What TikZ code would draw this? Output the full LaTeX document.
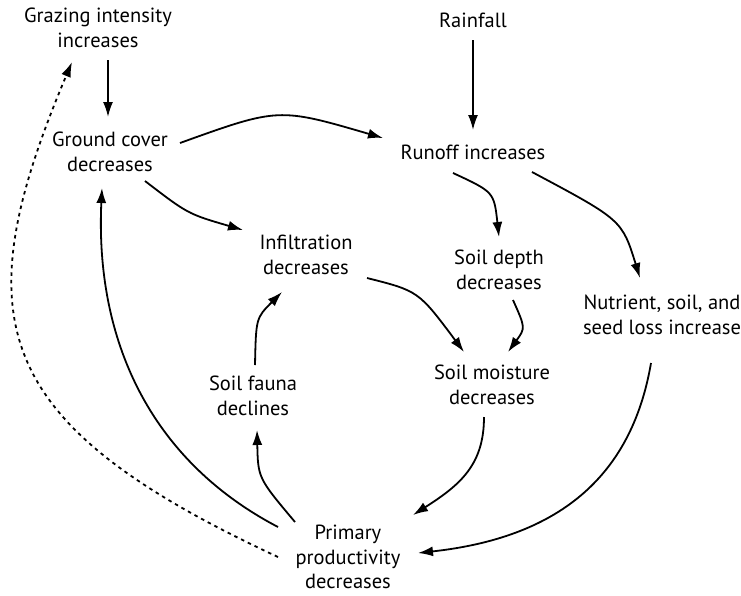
\documentclass[tikz,border=0pt]{standalone}
\usepackage{fontspec}
\setmainfont{PT Sans}
\usetikzlibrary{arrows.meta,calc}
\tikzset{
  lbl/.style={align=center,inner sep=0pt,font=\fontsize{20.5}{24.5}\selectfont},
  conn/.style={line width=1.8pt,-{Latex[length=15pt,width=10pt]}},
  dconn/.style={conn,dash pattern=on 3.5pt off 4pt}
}
\begin{document}
\begin{tikzpicture}[x=1pt,y=-1pt]
\useasboundingbox (0,0) rectangle (741,595);
\node[lbl] (gi) at (98,28) {Grazing intensity\\increases};
\node[lbl] (rf) at (473,20) {Rainfall};
\node[lbl] (gc) at (110,152) {Ground cover\\decreases};
\node[lbl] (ro) at (473,152) {Runoff increases};
\node[lbl] (inf) at (306,255) {Infiltration\\decreases};
\node[lbl] (sd) at (499,270) {Soil depth\\decreases};
\node[lbl] (nut) at (662,315) {Nutrient, soil, and\\seed loss increase};
\node[lbl] (sf) at (253,396) {Soil fauna\\declines};
\node[lbl] (sm) at (492,385) {Soil moisture\\decreases};
\node[lbl] (pp) at (348,557) {Primary\\productivity\\decreases};

\draw[conn] ($(gi)+(10,32)$) -- ($(gc)+(-2,-35)$);
\draw[conn] ($(rf)+(0,20)$) -- ($(ro)+(0,-22)$);
\draw[conn] ($(gc)+(70,-9)$) .. controls (278.5,107.5) .. ($(ro)+(-90,-14)$);
\draw[conn] ($(gc)+(35,29)$) .. controls (188,214) .. ($(inf)+(-63,-25)$);
\draw[conn] ($(ro)+(-20,21)$) .. controls (494,192) .. ($(sd)+(0,-33)$);
\draw[conn] ($(ro)+(59,20)$) .. controls (622,220) .. ($(nut)+(-22,-37)$);
\draw[conn] ($(sd)+(14,30)$) .. controls (525.5,328) .. ($(sm)+(16,-33)$);
\draw[conn] ($(inf)+(61,23)$) .. controls (418.5,291) .. ($(sm)+(-28,-33)$);
\draw[conn] ($(sf)+(2,-31)$) .. controls (256,318) .. ($(inf)+(-24,37)$);
\draw[conn] ($(pp)+(-53,-35)$) .. controls (258,478) .. ($(sf)+(4,34)$);
\draw[conn] ($(pp)+(-70,-30)$) .. controls (150,460) and (95,340) .. ($(gc)+(-8,36)$);
\draw[dconn] ($(pp)+(-70,0)$) .. controls (-10,423) and (-37,320) .. ($(gi)+(-26,34)$);
\draw[conn] ($(sm)+(-8,32)$) .. controls (484,465) and (460,485) .. ($(pp)+(65,-42)$);
\draw[conn] ($(nut)+(-11,48)$) .. controls (631,480) and (555,538) .. ($(pp)+(70,-4)$);
\end{tikzpicture}
\end{document}
